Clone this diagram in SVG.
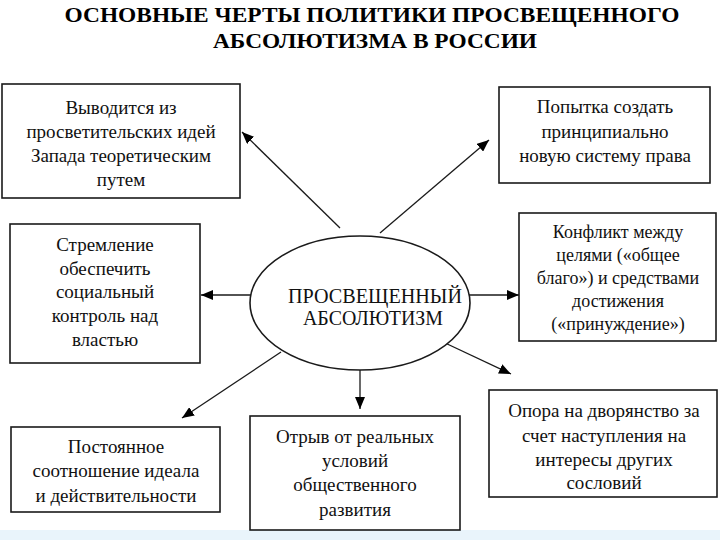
<svg xmlns="http://www.w3.org/2000/svg" width="720" height="540" viewBox="0 0 720 540">
<defs>
<style>
.box{fill:#fff;stroke:#1a1a1a;stroke-width:1.6}
.t{font-size:19px;fill:#111;text-anchor:middle}
.title{font-size:22px;font-weight:bold;fill:#000;text-anchor:middle}
.conn{stroke:#1a1a1a;stroke-width:1.3;fill:none;marker-end:url(#ah)}
</style>
<marker id="ah" markerUnits="userSpaceOnUse" markerWidth="14" markerHeight="10" refX="12" refY="5" orient="auto">
<path d="M0,0 L12,5 L0,10 Z" fill="#000"/>
</marker>
</defs>
<rect x="0" y="0" width="720" height="540" fill="#fff"/>
<rect x="0" y="530" width="720" height="10" fill="#e9f4fb"/>
<g font-family="Liberation Serif, Tinos, DejaVu Serif, serif">
<g id="title">
<text class="title" x="372" y="22" textLength="615" lengthAdjust="spacingAndGlyphs">ОСНОВНЫЕ ЧЕРТЫ ПОЛИТИКИ ПРОСВЕЩЕННОГО</text>
<text class="title" x="375" y="48" textLength="324" lengthAdjust="spacingAndGlyphs">АБСОЛЮТИЗМА В РОССИИ</text>
</g>
<g id="connectors">
<line class="conn" x1="340" y1="228" x2="242" y2="132"/>
<line class="conn" x1="380" y1="233" x2="489" y2="140"/>
<line class="conn" x1="251" y1="295" x2="201" y2="295"/>
<line class="conn" x1="469" y1="295" x2="519" y2="295"/>
<line class="conn" x1="281" y1="352" x2="182" y2="418"/>
<line class="conn" x1="360" y1="370" x2="360" y2="409"/>
<line class="conn" x1="443" y1="342" x2="511" y2="374"/>
</g>
<g id="center">
<ellipse cx="360" cy="303" rx="110" ry="67" fill="#fff" stroke="#1a1a1a" stroke-width="1.6"/>
<text class="t" x="375" y="303" style="font-size:21px" textLength="174" lengthAdjust="spacingAndGlyphs">ПРОСВЕЩЕННЫЙ</text>
<text class="t" x="373" y="325" style="font-size:21px" textLength="140" lengthAdjust="spacingAndGlyphs">АБСОЛЮТИЗМ</text>
</g>
<g id="n1">
<rect class="box" x="2" y="84" width="238" height="114"/>
<text class="t" x="121" y="114">Выводится из</text>
<text class="t" x="121" y="138">просветительских идей</text>
<text class="t" x="121" y="162">Запада теоретическим</text>
<text class="t" x="121" y="186">путем</text>
</g>
<g id="n2">
<rect class="box" x="499" y="87" width="211" height="96"/>
<text class="t" x="605" y="113">Попытка создать</text>
<text class="t" x="605" y="138">принципиально</text>
<text class="t" x="605" y="162">новую систему права</text>
</g>
<g id="n3">
<rect class="box" x="10" y="224" width="190" height="139"/>
<text class="t" x="105" y="251">Стремление</text>
<text class="t" x="105" y="275">обеспечить</text>
<text class="t" x="105" y="298">социальный</text>
<text class="t" x="105" y="322">контроль над</text>
<text class="t" x="105" y="346">властью</text>
</g>
<g id="n4">
<rect class="box" x="519" y="213" width="197" height="128"/>
<text class="t" x="618" y="238" style="font-size:18px">Конфликт между</text>
<text class="t" x="618" y="261" style="font-size:18px">целями («общее</text>
<text class="t" x="618" y="284" style="font-size:18px">благо») и средствами</text>
<text class="t" x="618" y="307" style="font-size:18px">достижения</text>
<text class="t" x="618" y="330" style="font-size:18px">(«принуждение»)</text>
</g>
<g id="n5">
<rect class="box" x="11" y="427" width="209" height="85"/>
<text class="t" x="116" y="453">Постоянное</text>
<text class="t" x="116" y="477">соотношение идеала</text>
<text class="t" x="116" y="502">и действительности</text>
</g>
<g id="n6">
<rect class="box" x="250" y="416" width="210" height="114"/>
<text class="t" x="355" y="443">Отрыв от реальных</text>
<text class="t" x="355" y="467">условий</text>
<text class="t" x="355" y="491">общественного</text>
<text class="t" x="355" y="516">развития</text>
</g>
<g id="n7">
<rect class="box" x="489" y="390" width="228" height="107"/>
<text class="t" x="604" y="417">Опора на дворянство за</text>
<text class="t" x="604" y="442">счет наступления на</text>
<text class="t" x="604" y="466">интересы других</text>
<text class="t" x="604" y="489">сословий</text>
</g>
</g>
</svg>
